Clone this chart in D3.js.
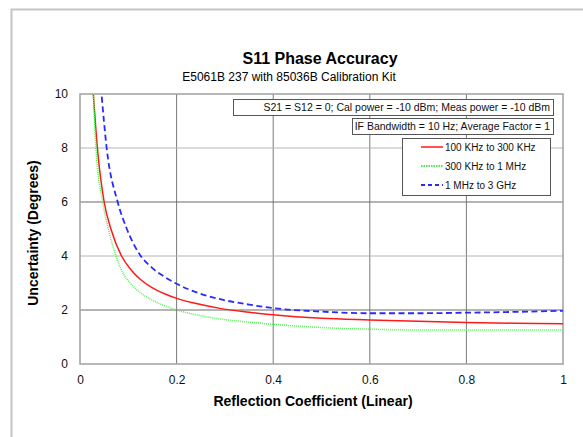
<!DOCTYPE html>
<html lang="en">
<head>
    <meta charset="UTF-8">
    <script src="https://cdn.jsdelivr.net/npm/d3@7"></script>
    <title>S11 Phase Accuracy</title>
    <style>
        body { margin: 0; background: white; }
        text { font-family: Arial, 'Liberation Sans', sans-serif; }
    </style>
</head>
<body>
<div id="chart"></div>
<script>
    const width = 583;
    const height = 437;

    // values
    const redX = [0.0276, 0.036, 0.05, 0.064, 0.086, 0.105, 0.124, 0.15, 0.175, 0.2, 0.25, 0.29, 0.35, 0.4, 0.5, 0.6, 0.7, 0.8, 0.9, 1.0];
    const redY = [10, 8, 6, 5, 4, 3.5, 3.15, 2.82, 2.6, 2.43, 2.2, 2.06, 1.92, 1.82, 1.69, 1.63, 1.58, 1.54, 1.51, 1.49];

    const greenX = [0.0276, 0.033, 0.047, 0.0587, 0.0745, 0.088, 0.1035, 0.125, 0.15, 0.175, 0.2, 0.25, 0.29, 0.35, 0.4, 0.5, 0.6, 0.7, 0.8, 0.9, 1.0];
    const greenY = [10, 8, 6, 5, 4, 3.4, 3.0, 2.64, 2.36, 2.16, 2.0, 1.79, 1.67, 1.55, 1.47, 1.35, 1.29, 1.26, 1.26, 1.26, 1.26];

    const blueX = [0.045, 0.0552, 0.078, 0.097, 0.124, 0.15, 0.175, 0.2, 0.25, 0.29, 0.35, 0.4, 0.5, 0.6, 0.7, 0.8, 0.9, 1.0];
    const blueY = [9.9, 8, 6, 5, 4.05, 3.55, 3.23, 2.97, 2.6, 2.4, 2.2, 2.07, 1.94, 1.88, 1.88, 1.90, 1.93, 1.97];

    const xTicks = [0, 0.2, 0.4, 0.6, 0.8, 1];
    const yTicks = [0, 2, 4, 6, 8, 10];
    const seriesNames = ["100 KHz to 300 KHz", "300 KHz to 1 MHz", "1 MHz to 3 GHz"];
    const noteLines = ["S21 = S12 = 0; Cal power = -10 dBm; Meas power = -10 dBm",
                       "IF Bandwidth  = 10 Hz; Average Factor = 1"];

    const series = [
        {name: seriesNames[0], xs: redX, ys: redY, color: "#ff1a1a", width: 1.5, dash: null, legendDash: null},
        {name: seriesNames[1], xs: greenX, ys: greenY, color: "#55f055", width: 1.5, dash: "1,1", legendDash: "1.5,1"},
        {name: seriesNames[2], xs: blueX, ys: blueY, color: "#2a2aff", width: 1.8, dash: "6,3.5", legendDash: "4,3"}
    ];

    const plot = {left: 80, right: 563, top: 94, bottom: 364};

    const x = d3.scaleLinear().domain([0, 1]).range([plot.left, plot.right]);
    const y = d3.scaleLinear().domain([0, 10]).range([plot.bottom, plot.top]);

    const svg = d3.select("#chart").append("svg")
        .attr("width", width)
        .attr("height", height);

    // outer chart frame (runs off the picture on the right and bottom)
    svg.append("rect")
        .attr("x", 11.5).attr("y", 9.5)
        .attr("width", 600).attr("height", 460)
        .attr("fill", "white")
        .attr("stroke", "#c4c4c4")
        .attr("stroke-width", 2);

    // grid
    svg.append("g").selectAll("line")
        .data(xTicks.slice(1, -1))
        .enter().append("line")
        .attr("x1", d => x(d)).attr("x2", d => x(d))
        .attr("y1", plot.top).attr("y2", plot.bottom)
        .attr("stroke", "#7a7a7a").attr("stroke-width", 1);

    svg.append("g").selectAll("line")
        .data(yTicks.slice(1, -1))
        .enter().append("line")
        .attr("x1", plot.left).attr("x2", plot.right)
        .attr("y1", d => y(d)).attr("y2", d => y(d))
        .attr("stroke", d => d % 4 === 0 ? "#b4b4b4" : "#6a6a6a")
        .attr("stroke-width", 1);

    svg.append("rect")
        .attr("x", plot.left).attr("y", plot.top)
        .attr("width", plot.right - plot.left).attr("height", plot.bottom - plot.top)
        .attr("fill", "none")
        .attr("stroke", "#a0a0a0")
        .attr("stroke-width", 1.5);

    // axes
    const xAxis = svg.append("g")
        .attr("transform", `translate(0,${plot.bottom})`)
        .call(d3.axisBottom(x).tickValues(xTicks).tickSize(0).tickPadding(11).tickFormat(d => d3.format("")(d)));
    const yAxis = svg.append("g")
        .attr("transform", `translate(${plot.left},0)`)
        .call(d3.axisLeft(y).tickValues(yTicks).tickSize(0).tickPadding(12));
    [xAxis, yAxis].forEach(a => {
        a.select(".domain").remove();
        a.selectAll("text")
            .attr("font-family", "Arial, 'Liberation Sans', sans-serif")
            .attr("font-size", 12)
            .attr("fill", "#111");
    });

    // curves
    const line = d3.line()
        .x(d => x(d[0]))
        .y(d => y(d[1]))
        .curve(d3.curveMonotoneX);

    const curves = svg.append("g");
    series.forEach(s => {
        curves.append("path")
            .datum(s.xs.map((v, i) => [v, s.ys[i]]))
            .attr("fill", "none")
            .attr("stroke", s.color)
            .attr("stroke-width", s.width)
            .attr("stroke-dasharray", s.dash)
            .attr("d", line);
    });

    // titles
    svg.append("text")
        .attr("x", 320).attr("y", 64)
        .attr("text-anchor", "middle")
        .attr("font-size", 16).attr("font-weight", "bold")
        .text("S11 Phase Accuracy");
    svg.append("text")
        .attr("x", 289).attr("y", 81)
        .attr("text-anchor", "middle")
        .attr("font-size", 12)
        .text("E5061B 237 with 85036B Calibration Kit");
    svg.append("text")
        .attr("x", 313).attr("y", 406)
        .attr("text-anchor", "middle")
        .attr("font-size", 14).attr("font-weight", "bold")
        .text("Reflection Coefficient (Linear)");
    svg.append("text")
        .attr("transform", "translate(38,233) rotate(-90)")
        .attr("text-anchor", "middle")
        .attr("font-size", 14).attr("font-weight", "bold")
        .text("Uncertainty (Degrees)");

    // note boxes
    const notes = [
        {x: 233, y: 99, w: 320, h: 16, text: noteLines[0]},
        {x: 352, y: 118, w: 201, h: 16, text: noteLines[1]}
    ];
    notes.forEach(n => {
        svg.append("rect")
            .attr("x", n.x + 0.5).attr("y", n.y + 0.5)
            .attr("width", n.w).attr("height", n.h)
            .attr("fill", "white").attr("stroke", "#555").attr("stroke-width", 1);
        svg.append("text")
            .attr("x", n.x + n.w - 3).attr("y", n.y + 12)
            .attr("text-anchor", "end")
            .attr("font-size", 10.5)
            .attr("fill", "#111")
            .text(n.text);
    });

    // legend
    const legend = svg.append("g").attr("transform", "translate(402,138)");
    legend.append("rect")
        .attr("x", 0.5).attr("y", 0.5)
        .attr("width", 148).attr("height", 57)
        .attr("fill", "white").attr("stroke", "#555").attr("stroke-width", 1);
    series.forEach((s, i) => {
        const ly = 9 + i * 19;
        legend.append("line")
            .attr("x1", 19).attr("x2", 41)
            .attr("y1", ly).attr("y2", ly)
            .attr("stroke", i === 1 ? "#22dd22" : s.color)
            .attr("stroke-width", s.width)
            .attr("stroke-dasharray", s.legendDash);
        legend.append("text")
            .attr("x", 43).attr("y", ly + 3.5)
            .attr("font-size", 10)
            .attr("fill", "#111")
            .text(s.name);
    });
</script>
</body>
</html>
